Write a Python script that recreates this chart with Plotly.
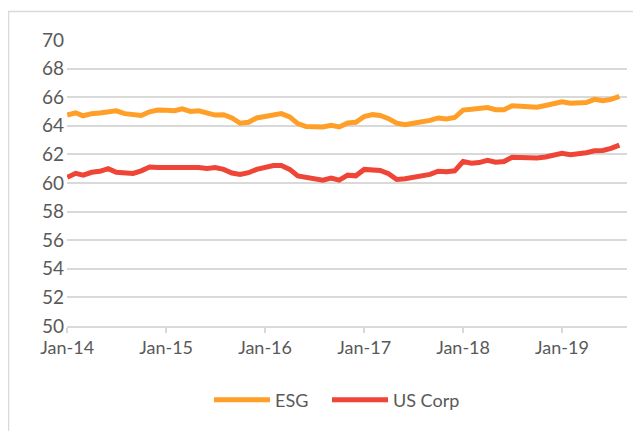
import plotly.graph_objects as go
import pandas as pd

months = pd.date_range("2014-01-01", periods=68, freq="MS")

esg = [64.75, 64.9, 64.7, 64.85, 64.9, 65.0, 65.05, 64.85, 64.75, 64.72, 64.98, 65.1,
       65.08, 65.05, 65.18, 65.0, 65.05, 64.9, 64.75, 64.78, 64.55, 64.18, 64.25, 64.55,
       64.68, 64.78, 64.85, 64.62, 64.15, 63.95, 63.92, 63.92,
       64.03, 63.92, 64.2, 64.25, 64.65, 64.78, 64.72, 64.5, 64.18, 64.08, 64.18, 64.25,
       64.38, 64.55, 64.48, 64.58,
       65.1, 65.15, 65.2, 65.28, 65.12, 65.12, 65.4, 65.35, 65.33, 65.3, 65.42, 65.52,
       65.68, 65.58, 65.62, 65.63, 65.85, 65.75, 65.85, 66.05]

us_corp = [60.4, 60.68, 60.55, 60.75, 60.82, 61.0, 60.75, 60.68, 60.67, 60.85, 61.12, 61.08,
           61.08, 61.15, 61.08, 61.12, 61.08, 61.02, 61.08, 60.95, 60.7, 60.6, 60.72, 60.95,
           61.12, 61.22, 61.22, 60.95, 60.5, 60.4, 60.25, 60.2,
           60.35, 60.2, 60.55, 60.5, 60.95, 60.95, 60.88, 60.65, 60.25, 60.3, 60.42, 60.52,
           60.6, 60.82, 60.78, 60.85,
           61.5, 61.38, 61.43, 61.58, 61.45, 61.5, 61.8, 61.78, 61.75, 61.75, 61.82, 61.95,
           62.08, 61.98, 62.03, 62.12, 62.25, 62.28, 62.42, 62.65]

tick_dates = ["2014-01-01", "2015-01-01", "2016-01-01", "2017-01-01", "2018-01-01", "2019-01-01"]
tick_labels = ["Jan-14", "Jan-15", "Jan-16", "Jan-17", "Jan-18", "Jan-19"]

ESG_COLOR = "#FF9F27"
CORP_COLOR = "#EF4537"
GRID = "#D9D9D9"
TEXT = "#595959"

fig = go.Figure()
fig.add_trace(go.Scatter(x=months, y=esg, mode="lines", name="ESG", legendwidth=47,
                         line=dict(color=ESG_COLOR, width=5)))
fig.add_trace(go.Scatter(x=months, y=us_corp, mode="lines", name="US Corp",
                         line=dict(color=CORP_COLOR, width=5)))

# page has an 8px body margin; work in page pixels and convert
OFF = 8
W, H = 641 - OFF, 431 - OFF
PL, PR, PT, PB = 67, 627, 40, 326  # plot area in page pixels
L = PL - OFF
T = PT - OFF
R = W - (PR - OFF)
B = H - (PB - OFF)
pw = W - L - R
ph = H - T - B

def px_x(p):
    return (p - OFF - L) / pw

def px_y(p):
    return (H - B - (p - OFF)) / ph

fig.add_shape(type="rect", xref="paper", yref="paper",
              x0=px_x(8.5), x1=px_x(700), y0=px_y(11.5), y1=px_y(480),
              line=dict(color=GRID, width=1.5), fillcolor="rgba(0,0,0,0)", layer="below")

fig.update_layout(
    width=W, height=H,
    margin=dict(l=L, r=R, t=T, b=B, autoexpand=False),
    paper_bgcolor="white", plot_bgcolor="white",
    font=dict(family="Lato", size=18, color=TEXT),
    showlegend=True,
    legend=dict(orientation="h", x=px_x(209), xanchor="left", y=px_y(400), yanchor="middle",
                font=dict(size=18, color=TEXT), itemwidth=56,
                traceorder="normal"),
    xaxis=dict(type="date", range=["2013-12-31", "2019-08-29"],
               tickvals=tick_dates, ticktext=tick_labels,
               showgrid=False, showline=True, linecolor=GRID, linewidth=1.5,
               ticks="outside", ticklen=5, tickcolor=GRID, tickwidth=1.5,
               tickfont=dict(size=18, color=TEXT), zeroline=False),
    yaxis=dict(range=[50, 70], dtick=2, showgrid=True, gridcolor=GRID, gridwidth=1.5,
               zeroline=False, showline=False, ticks="", tickfont=dict(size=19, color=TEXT),
               ticklabelstandoff=2),
)

fig.write_html("out.html")
